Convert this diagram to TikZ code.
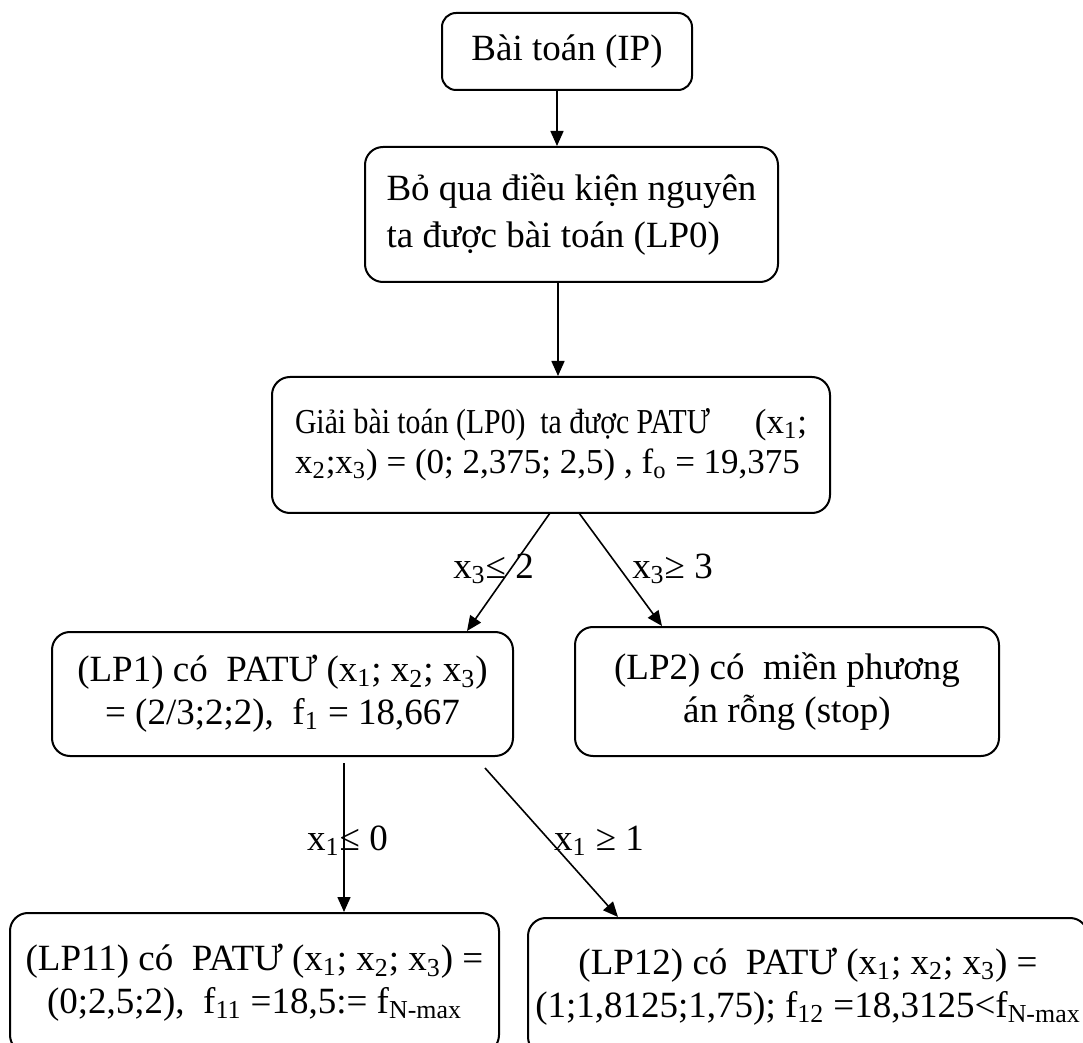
\documentclass[tikz,border=0pt]{standalone}
\usepackage{fontspec}
\usepackage{graphicx}
\setmainfont{Liberation Serif}
\usetikzlibrary{arrows.meta,positioning}

\begin{document}
\begin{tikzpicture}[x=0.5pt,y=-0.5pt,
    box/.style={draw, line width=1pt, rounded corners=9pt, inner sep=0pt,
                font=\fontsize{18.5}{21.5}\selectfont},
    arr/.style={-{Triangle[length=7.5pt,width=6.5pt]}, line width=0.8pt},
    lbl/.style={inner sep=0pt, anchor=base, font=\fontsize{18.5}{21.5}\selectfont}]

    % Page frame (pixel units of the original figure)
    \useasboundingbox (0,0) rectangle (1083,1043);

    % Problem and relaxation
    \node[box, rounded corners=7pt, minimum width=125pt, minimum height=38.5pt] (ip) at (567,51.5) {Bài toán (IP)};
    \node[box, align=left, font=\fontsize{18.5}{23.5}\selectfont, minimum width=206.5pt, minimum height=67.5pt] (relax) at (571.5,214.5)
        {Bỏ qua điều kiện nguyên\\ta được bài toán (LP0)};
    \node[box, align=left, font=\fontsize{17.5}{20}\selectfont, anchor=west, inner xsep=11.5pt, minimum height=68pt] (solve) at (271,445)
        {\makebox[256pt][l]{\scalebox{0.85}[1]{Giải bài toán (LP0)~ ta được PATƯ}\hfill(x\textsubscript{1};}\\
         x\textsubscript{2};x\textsubscript{3}) = (0; 2,375; 2,5) , f\textsubscript{o} = 19,375};

    % First branching on x3
    \node[box, align=center, minimum width=230.5pt, minimum height=62pt] (lp1) at (282.5,694)
        {(LP1) có~ PATƯ (x\textsubscript{1}; x\textsubscript{2}; x\textsubscript{3})\\
         = (2/3;2;2),~ f\textsubscript{1} = 18,667};
    \node[box, align=center, minimum width=212pt, minimum height=64.5pt] (lp2) at (787,691.5)
        {(LP2) có~ miền phương\\án rỗng (stop)};

    % Second branching on x1
    \node[box, align=center, minimum width=244.5pt, minimum height=70pt] (lp11) at (254.5,983)
        {(LP11) có~ PATƯ (x\textsubscript{1}; x\textsubscript{2}; x\textsubscript{3}) =\\
         (0;2,5;2),~ f\textsubscript{11} =18,5:= f\textsubscript{N-max}};
    \node[box, align=center, minimum width=280pt, minimum height=68.5pt] (lp12) at (808,986.5)
        {(LP12) có~ PATƯ (x\textsubscript{1}; x\textsubscript{2}; x\textsubscript{3}) =\\
         (1;1,8125;1,75); f\textsubscript{12} =18,3125<f\textsubscript{N-max}};

    % Connectors
    \draw[arr] ([xshift=-5pt]ip.south) coordinate (a1) -- (a1 |- relax.north);
    \draw[arr] ([xshift=-6.75pt]relax.south) coordinate (a2) -- (a2 |- solve.north);
    \coordinate (s1) at (550,513);
    \coordinate (s2) at (579,513);
    \draw[arr] (s1) -- ([xshift=92.25pt]lp1.north);
    \draw[arr] (s2) -- ([xshift=-62.5pt]lp2.north);
    \coordinate (b1) at (344,763);
    \coordinate (b2) at (485,768);
    \draw[arr] (b1) -- (b1 |- lp11.north);
    \draw[arr] (b2) -- ([xshift=-95pt]lp12.north);

    % Branch labels
    \node[lbl] (le3) at (493.5,578) {x\textsubscript{3}≤ 2};
    \node[lbl] (ge3) at (672.5,578) {x\textsubscript{3}≥ 3};
    \node[lbl] (le1) at (347.5,850) {x\textsubscript{1}≤ 0};
    \node[lbl] (ge1) at (599,850) {x\textsubscript{1} ≥ 1};
\end{tikzpicture}
\end{document}
